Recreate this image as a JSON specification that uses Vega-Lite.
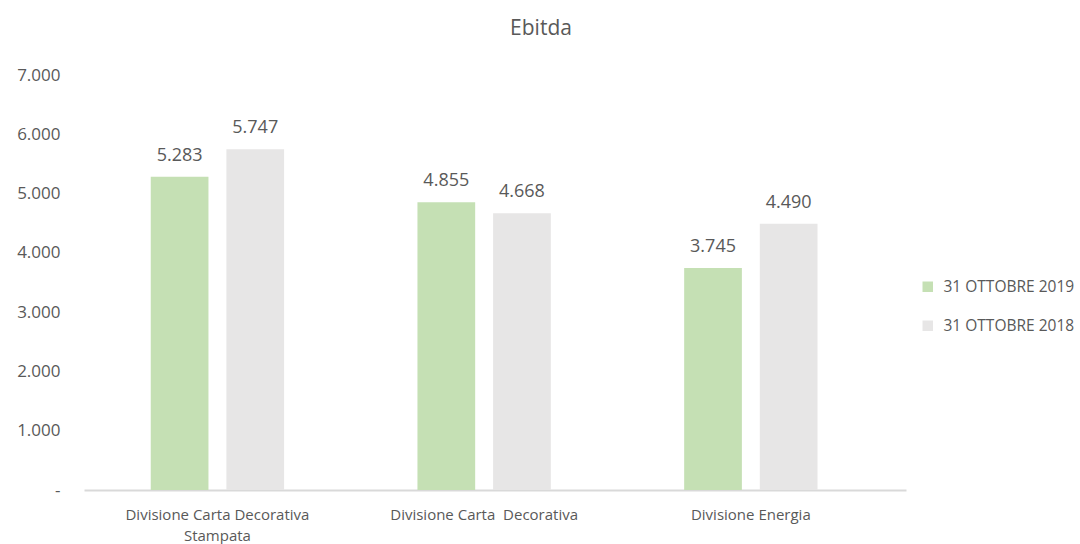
{
  "$schema": "https://vega.github.io/schema/vega-lite/v6.json",
  "width": 822,
  "height": 415,
  "autosize": {"type": "none"},
  "padding": {"left": 84, "top": 75, "right": 174, "bottom": 54},
  "background": "white",
  "title": {
    "text": "Ebitda",
    "anchor": "middle",
    "frame": "group",
    "dx": 46,
    "offset": 27,
    "fontSize": 21,
    "font": "Open Sans",
    "fontWeight": "normal",
    "color": "#595959"
  },
  "config": {
    "view": {"stroke": null},
    "font": "Open Sans",
    "locale": {
      "number": {"decimal": ",", "thousands": ".", "grouping": [3], "currency": ["€", ""]}
    }
  },
  "data": {
    "values": [
      {"divisione": "Divisione Carta Decorativa Stampata", "periodo": "31 OTTOBRE 2019", "valore": 5283},
      {"divisione": "Divisione Carta Decorativa Stampata", "periodo": "31 OTTOBRE 2018", "valore": 5747},
      {"divisione": "Divisione Carta  Decorativa", "periodo": "31 OTTOBRE 2019", "valore": 4855},
      {"divisione": "Divisione Carta  Decorativa", "periodo": "31 OTTOBRE 2018", "valore": 4668},
      {"divisione": "Divisione Energia", "periodo": "31 OTTOBRE 2019", "valore": 3745},
      {"divisione": "Divisione Energia", "periodo": "31 OTTOBRE 2018", "valore": 4490}
    ]
  },
  "encoding": {
    "x": {
      "field": "divisione",
      "type": "nominal",
      "sort": null,
      "title": null,
      "scale": {"paddingInner": 0.5, "paddingOuter": 0.291, "align": 0.43},
      "axis": {
        "labelAngle": 0,
        "labelFontSize": 15,
        "labelColor": "#595959",
        "labelPadding": 17,
        "labelLimit": 400,
        "ticks": false,
        "domainColor": "#d9d9d9",
        "domainWidth": 2,
        "labelLineHeight": 21,
        "labelExpr": "datum.label == 'Divisione Carta Decorativa Stampata' ? ['Divisione Carta Decorativa', 'Stampata'] : (datum.label == 'Divisione Carta  Decorativa' ? 'Divisione Carta\u00a0 Decorativa' : datum.label)"
      }
    },
    "xOffset": {
      "field": "periodo",
      "type": "nominal",
      "sort": ["31 OTTOBRE 2019", "31 OTTOBRE 2018"],
      "scale": {"paddingInner": 0.237, "paddingOuter": 0}
    },
    "y": {
      "field": "valore",
      "type": "quantitative",
      "title": null,
      "scale": {"domain": [0, 7000]},
      "axis": {
        "values": [0, 1000, 2000, 3000, 4000, 5000, 6000, 7000],
        "grid": false,
        "domain": false,
        "ticks": false,
        "labelFontSize": 17,
        "labelColor": "#595959",
        "labelPadding": 24,
        "labelExpr": "datum.value == 0 ? '-' : format(datum.value, ',')",
        "encode": {
          "labels": {
            "update": {
              "dx": {"signal": "datum.value == 0 ? -10 : 0"}
            }
          }
        }
      }
    }
  },
  "layer": [
    {
      "mark": {"type": "bar"},
      "encoding": {
        "color": {
          "field": "periodo",
          "type": "nominal",
          "sort": ["31 OTTOBRE 2019", "31 OTTOBRE 2018"],
          "scale": {"domain": ["31 OTTOBRE 2019", "31 OTTOBRE 2018"], "range": ["#c5e0b4", "#e7e6e6"]},
          "legend": {
            "title": null,
            "orient": "none",
            "legendX": 836,
            "legendY": 204,
            "symbolType": "square",
            "symbolSize": 110,
            "symbolStrokeWidth": 0,
            "labelFontSize": 15.5,
            "labelColor": "#595959",
            "rowPadding": 22,
            "labelOffset": 8
          }
        }
      }
    },
    {
      "mark": {"type": "text", "baseline": "bottom", "dy": -12, "fontSize": 18, "color": "#595959"},
      "encoding": {
        "text": {"field": "valore", "type": "quantitative", "format": ","}
      }
    }
  ]
}
